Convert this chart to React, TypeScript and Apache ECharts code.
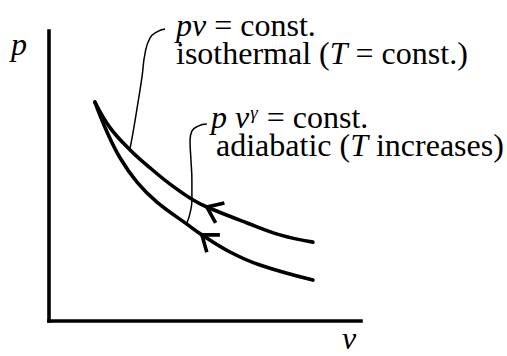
import React, { useEffect, useRef } from "react";
import * as echarts from "echarts";

// Isothermal process curve (v, p)
const isothermV = [1.47, 1.96, 2.6, 3.24, 3.88, 4.62, 5.06, 6.35, 7.4, 8.46];
const isothermP = [7.55, 6.66, 5.9, 5.28, 4.72, 4.17, 3.93, 3.38, 2.97, 2.72];

// Adiabatic process curve (v, p)
const adiabatV = [1.47, 1.86, 2.28, 2.82, 3.46, 4.42, 4.9, 5.8, 6.76, 8.46];
const adiabatP = [7.55, 6.52, 5.62, 4.79, 4.1, 3.34, 2.97, 2.38, 1.93, 1.41];

// Leader lines from the labels down to each curve
const leaderIsoV = [2.6, 2.69, 2.85, 2.98, 3.08, 3.24, 3.46, 3.72];
const leaderIsoP = [5.97, 6.48, 7.52, 8.41, 9.24, 9.76, 9.97, 10.07];
const leaderAdiV = [4.42, 4.52, 4.58, 4.58, 4.55, 4.52, 4.58, 4.78, 5.06];
const leaderAdiP = [3.38, 3.72, 4.17, 4.86, 5.55, 6.24, 6.55, 6.72, 6.79];

// Direction arrows: tip (v, p) and a point further along the curve
const arrowTips = [
  [5.06, 3.93, 5.71, 3.62],
  [4.9, 2.97, 5.54, 2.45],
];

// Label texts
const axisNameP = "p";
const axisNameV = "v";
const isothermLabel = "{i|pv}{r| = const.}\n{r|isothermal (}{i|T}{r| = const.)}";
const adiabatLabel = "{i|p v}{sup|γ}{r| = const.}\n{ind|adiabatic (}{i|T}{r| increases)}";

const zip = (xs: number[], ys: number[]) => xs.map((x, i) => [x, ys[i]]);

const FONT = "'Liberation Serif', 'Times New Roman', serif";
const FS = 32;
const LH = 28;

export default function App() {
  const ref = useRef<HTMLDivElement>(null);

  useEffect(() => {
    if (!ref.current) return;
    const chart = echarts.init(ref.current, undefined, { renderer: "svg" });

    const rich = {
      i: { fontFamily: FONT, fontSize: FS, fontStyle: "italic", fill: "#000", lineHeight: LH },
      r: { fontFamily: FONT, fontSize: FS, fill: "#000", lineHeight: LH },
      ind: { fontFamily: FONT, fontSize: FS, fill: "#000", lineHeight: LH, padding: [0, 0, 0, 5] },
      sup: {
        fontFamily: FONT,
        fontSize: 19,
        fontStyle: "italic",
        fill: "#000",
        lineHeight: 17,
        verticalAlign: "top",
        padding: [0, 1, 0, 1],
      },
    };

    const labelEl = (x: number, y: number, text: string) => ({
      type: "text",
      x,
      y,
      silent: true,
      style: {
        text,
        rich,
        fontFamily: FONT,
        fontSize: FS,
        lineHeight: LH,
        fill: "#000",
        align: "left",
        verticalAlign: "top",
      },
    });

    const axisNameEl = (x: number, y: number, text: string) => ({
      type: "text",
      x,
      y,
      silent: true,
      style: {
        text,
        fontFamily: FONT,
        fontSize: FS,
        fontStyle: "italic",
        fill: "#000",
        align: "center",
        verticalAlign: "middle",
      },
    });

    const thick = { color: "#000", width: 3.6, cap: "round" };
    const thin = { color: "#000", width: 1.5 };
    const axisOpt = {
      type: "value",
      min: 0,
      max: 10,
      axisLine: { show: true, lineStyle: { color: "#000", width: 3.6, cap: "square" } },
      axisTick: { show: false },
      axisLabel: { show: false },
      splitLine: { show: false },
    };

    chart.setOption({
      animation: false,
      backgroundColor: "#fff",
      grid: { left: 49, top: 31, width: 312, height: 290, containLabel: false },
      xAxis: axisOpt,
      yAxis: axisOpt,
      series: [
        {
          name: "isothermal",
          type: "line",
          data: zip(isothermV, isothermP),
          smooth: 0.4,
          symbol: "none",
          clip: false,
          lineStyle: thick,
        },
        {
          name: "adiabatic",
          type: "line",
          data: zip(adiabatV, adiabatP),
          smooth: 0.4,
          symbol: "none",
          clip: false,
          lineStyle: thick,
        },
        {
          name: "leader-iso",
          type: "line",
          data: zip(leaderIsoV, leaderIsoP),
          smooth: 0.5,
          symbol: "none",
          clip: false,
          lineStyle: thin,
        },
        {
          name: "leader-adi",
          type: "line",
          data: zip(leaderAdiV, leaderAdiP),
          smooth: 0.5,
          symbol: "none",
          clip: false,
          lineStyle: thin,
        },
        {
          name: "arrows",
          type: "custom",
          data: arrowTips,
          encode: { x: 0, y: 1 },
          clip: false,
          renderItem: (_params: any, api: any) => {
            const tip = api.coord([api.value(0), api.value(1)]);
            const back = api.coord([api.value(2), api.value(3)]);
            const ang = Math.atan2(back[1] - tip[1], back[0] - tip[0]);
            const len = 18;
            const half = (37 * Math.PI) / 180;
            const p1 = [tip[0] + len * Math.cos(ang - half), tip[1] + len * Math.sin(ang - half)];
            const p2 = [tip[0] + len * Math.cos(ang + half), tip[1] + len * Math.sin(ang + half)];
            return {
              type: "polyline",
              shape: { points: [p1, tip, p2] },
              style: { stroke: "#000", lineWidth: 3.6, fill: null, lineJoin: "miter" },
            };
          },
        },
      ],
      graphic: [
        labelEl(176, 11, isothermLabel),
        labelEl(211, 103, adiabatLabel),
        axisNameEl(19, 44, axisNameP),
        axisNameEl(349, 338, axisNameV),
      ],
    });

    return () => chart.dispose();
  }, []);

  return (
    <div
      ref={ref}
      style={{ position: "fixed", left: 0, top: 0, width: 507, height: 356, background: "#fff" }}
    />
  );
}
